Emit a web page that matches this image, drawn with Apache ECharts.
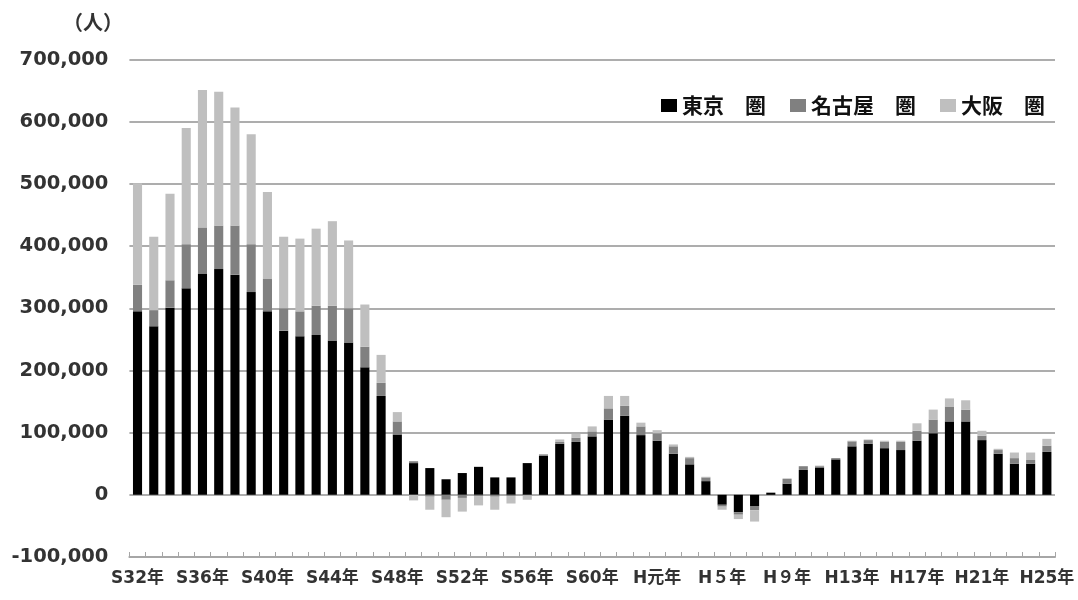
<!DOCTYPE html>
<html>
<head>
<meta charset="utf-8">
<script src="https://cdn.jsdelivr.net/npm/echarts@6/dist/echarts.min.js"></script>
<style>
  html, body { margin: 0; padding: 0; background: #fff; }
  #chart { width: 1078px; height: 600px; }
</style>
</head>
<body>
<div id="chart"></div>
<script>
// 年度（昭和32年〜平成25年）
const categories = [
  'S32年','S33年','S34年','S35年','S36年','S37年','S38年','S39年',
  'S40年','S41年','S42年','S43年','S44年','S45年','S46年','S47年',
  'S48年','S49年','S50年','S51年','S52年','S53年','S54年','S55年',
  'S56年','S57年','S58年','S59年','S60年','S61年','S62年','S63年',
  'H元年','H2年','H3年','H4年','H５年','H6年','H7年','H8年',
  'H９年','H10年','H11年','H12年','H13年','H14年','H15年','H16年',
  'H17年','H18年','H19年','H20年','H21年','H22年','H23年','H24年','H25年'
];

// 転入超過数（人）
const tokyo = [
  295000, 271000, 301000, 332000, 356000, 363000, 354000, 326000,
  295000, 264000, 255000, 257000, 248000, 245000, 205000, 159000,
  97000, 51000, 43000, 25000, 35000, 45000, 28000, 28000,
  51000, 63000, 82000, 85000, 94000, 121000, 127000, 96000,
  87000, 66000, 49000, 22000, -16000, -28000, -18000, 3000,
  18000, 40000, 44000, 57000, 78000, 82000, 75000, 72000,
  87000, 99000, 118000, 118000, 88000, 66000, 50000, 50000, 69000
];
const nagoya = [
  43000, 26000, 44000, 71000, 74000, 70000, 79000, 77000,
  52000, 36000, 40000, 47000, 56000, 55000, 33000, 21000,
  21000, 3000, -3000, -8000, -5000, -2000, -3000, -2000,
  -1000, 2000, 3000, 7000, 8000, 18000, 16000, 14000,
  12000, 12000, 10000, 6000, -3000, -4000, -7000, 1000,
  8000, 6000, 2000, 2000, 8000, 6000, 10000, 13000,
  16000, 22000, 24000, 19000, 7000, 6000, 9000, 6000, 10000
];
const osaka = [
  163000, 118000, 139000, 187000, 221000, 215000, 190000, 177000,
  140000, 115000, 117000, 124000, 136000, 109000, 68000, 45000,
  15000, -9000, -21000, -28000, -22000, -15000, -21000, -12000,
  -7000, 0, 4000, 6000, 8000, 20000, 16000, 6000,
  5000, 3000, 2000, 1000, -5000, -7000, -18000, 0,
  0, 0, 1000, 0, 1000, 1000, 2000, 2000,
  12000, 16000, 13000, 15000, 8000, 2000, 9000, 12000, 11000
];

const seriesNames = ['東京　圏', '名古屋　圏', '大阪　圏'];
const seriesColors = ['#000000', '#808080', '#bfbfbf'];
const seriesData = [tokyo, nagoya, osaka];

const FONT = "'DejaVu Sans', 'Noto Sans CJK JP', sans-serif";
const CJK = "'Noto Sans CJK JP', 'DejaVu Sans', sans-serif";

const chart = echarts.init(document.getElementById('chart'), null, { renderer: 'canvas' });

chart.setOption({
  animation: false,
  backgroundColor: '#ffffff',
  title: {
    text: '（人）',
    left: 58,
    top: 7,
    textStyle: { fontFamily: CJK, fontSize: 20, fontWeight: 'bold', color: '#333' }
  },
  legend: {
    data: seriesNames,
    left: 656,
    top: 90,
    itemWidth: 16,
    itemHeight: 13,
    itemGap: 24,
    itemTextGap: 4,
    icon: 'rect',
    textStyle: { fontFamily: CJK, fontSize: 21, fontWeight: 'bold', color: '#111' }
  },
  grid: { left: 129.4, right: 23, top: 59.5, bottom: 43, containLabel: false },
  xAxis: {
    type: 'category',
    data: categories,
    boundaryGap: true,
    axisLine: { onZero: false, lineStyle: { color: '#a6a6a6', width: 2 } },
    axisTick: { show: true, inside: true, length: 5, interval: 0, lineStyle: { color: '#a6a6a6', width: 1 } },
    axisLabel: {
      interval: 3,
      margin: 13,
      fontFamily: FONT,
      fontSize: 17,
      fontWeight: 'bold',
      color: '#333'
    },
    splitLine: { show: false }
  },
  yAxis: {
    type: 'value',
    min: -100000,
    max: 700000,
    interval: 100000,
    axisLine: { show: false },
    axisTick: { show: false },
    axisLabel: {
      margin: 21,
      fontFamily: FONT,
      fontSize: 19.5,
      fontWeight: 'bold',
      color: '#333',
      formatter: v => v.toString().replace(/\B(?=(\d{3})+(?!\d))/g, ',')
    },
    splitLine: { lineStyle: { color: '#adadad', width: 2 } }
  },
  series: seriesNames.map((name, i) => ({
    name,
    type: 'bar',
    stack: 'total',
    barWidth: '56%',
    data: seriesData[i],
    itemStyle: { color: seriesColors[i] }
  }))
});
</script>
</body>
</html>
